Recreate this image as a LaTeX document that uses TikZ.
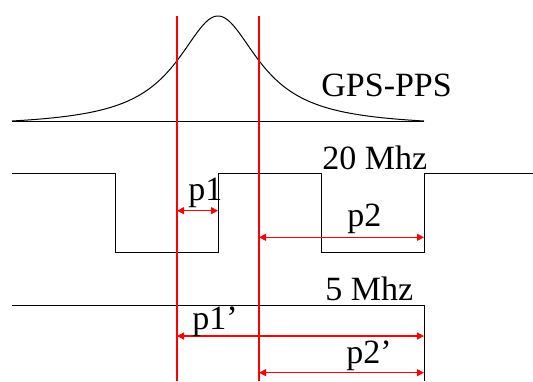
\documentclass[tikz,border=0pt]{standalone}
\usepackage{fontspec}
\setmainfont{Liberation Serif}
\usetikzlibrary{arrows.meta}
\begin{document}
\begin{tikzpicture}[x=0.5pt,y=-0.5pt,
  sig/.style={black, line width=0.5pt},
  vline/.style={draw=red, line width=0.6pt},
  dimline/.style={draw=red, line width=0.6pt, {Triangle[length=3.5pt,width=3.5pt]}-{Triangle[length=3.5pt,width=3.5pt]}},
  lbl/.style={font=\fontsize{17}{19}\selectfont, inner sep=0pt, anchor=base west}]
\useasboundingbox (0,0) rectangle (533,381);
% GPS-PPS pulse
\draw[sig] (12,121) -- (424,121);
\draw[sig] plot[domain=12:424, samples=220, smooth]
  (\x, {121 - 105*((1/(1+((\x-218)/50)^2)) - 0.0556)/0.944});
% 20 MHz square wave
\draw[sig] (12,173.7) -- (115,173.7) -- (115,252) -- (218,252) -- (218,173.7)
  -- (321,173.7) -- (321,252) -- (424,252) -- (424,173.7) -- (533,173.7);
% 5 MHz
\draw[sig] (12,305.3) -- (424,305.3) -- (424,381);
% red markers
\coordinate (m1t) at (177,16);
\coordinate (m1b) at (177,381);
\coordinate (m2t) at (259,16);
\coordinate (m2b) at (259,381);
\draw[vline] (m1t) -- (m1b);
\draw[vline] (m2t) -- (m2b);
% dimension arrows
\coordinate (a1) at (177,210.7);
\coordinate (b1) at (218,210.7);
\coordinate (a2) at (259,237.3);
\coordinate (b2) at (424,237.3);
\coordinate (a3) at (177,336);
\coordinate (b3) at (424,336);
\coordinate (a4) at (259,372.7);
\coordinate (b4) at (424,372.7);
\draw[dimline] (a1) -- (b1);
\draw[dimline] (a2) -- (b2);
\draw[dimline] (a3) -- (b3);
\draw[dimline] (a4) -- (b4);
% labels
\node[lbl] (gps) at (321,96) {GPS-PPS};
\node[lbl] (f20) at (322,169) {20 Mhz};
\node[lbl] (f5) at (325,300) {5 Mhz};
\node[lbl] (p1) at (188,200) {p1};
\node[lbl] (p2) at (347,226) {p2};
\node[lbl] (p1p) at (192,329) {p1’};
\node[lbl] (p2p) at (346,363) {p2’};
\end{tikzpicture}
\end{document}
